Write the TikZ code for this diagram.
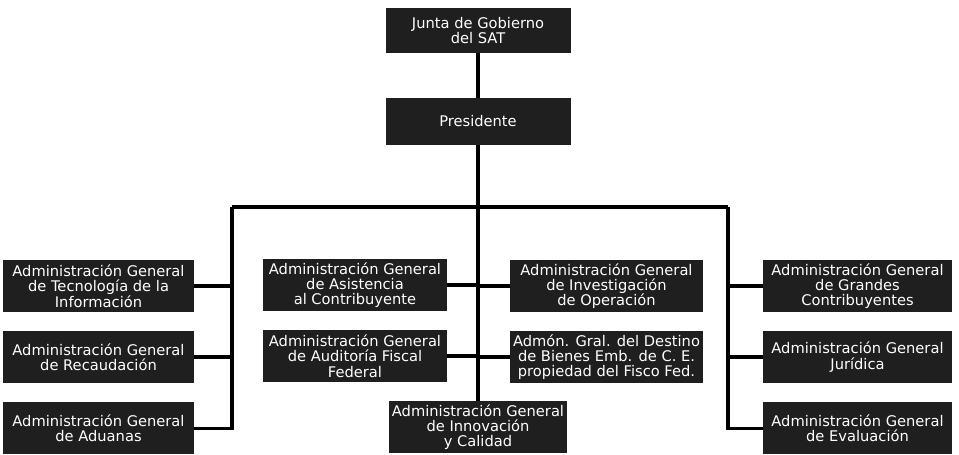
\documentclass[tikz,border=0pt]{standalone}
\usepackage{fontspec}
\setsansfont{DejaVu Sans}
\usepackage{xcolor}
\usetikzlibrary{positioning}

\begin{document}
\begin{tikzpicture}[
    x=0.75pt, y=-0.75pt,
    node distance=14pt,
    box/.style={fill=black!88, text=white, minimum height=39pt, inner sep=1pt,
                font=\sffamily\fontsize{11}{11.5}\selectfont, align=center},
    line/.style={line width=2.6pt}
  ]
    \useasboundingbox (0,0) rectangle (959,454);

    \node[box, minimum width=138.75pt, minimum height=33.75pt] (junta) at (478,30.5)
          {Junta de Gobierno\\del SAT};
    \node[box, minimum width=138.75pt, minimum height=35.25pt] (pres) at (478,121.5)
          {Presidente};

    % left column
    \node[box, minimum width=143pt] (tec) at (98.5,286)
          {Administración General\\de Tecnología de la\\Información};
    \node[box, minimum width=143pt, below=of tec] (rec)
          {Administración General\\de Recaudación};
    \node[box, minimum width=143pt, below=of rec] (adu)
          {Administración General\\de Aduanas};

    % centre, left side
    \node[box, minimum width=138pt] (asi) at (355,285)
          {Administración General\\de Asistencia\\al Contribuyente};
    \node[box, minimum width=138pt, below=of asi] (aud)
          {Administración General\\de Auditoría Fiscal\\Federal};

    % centre, right side
    \node[box, minimum width=144.75pt] (inv) at (606.5,286)
          {Administración General\\de Investigación\\de Operación};
    \node[box, minimum width=144.75pt, below=of inv] (des)
          {Admón. Gral. del Destino\\de Bienes Emb. de C. E.\\propiedad del Fisco Fed.};

    \node[box, minimum width=134pt] (inno) at (478,427)
          {Administración General\\de Innovación\\y Calidad};

    % right column
    \node[box, minimum width=141.75pt] (gra) at (857.5,286)
          {Administración General\\de Grandes\\Contribuyentes};
    \node[box, minimum width=141.75pt, below=of gra] (jur)
          {Administración General\\Jurídica};
    \node[box, minimum width=141.75pt, below=of jur] (eva)
          {Administración General\\de Evaluación};

    \coordinate (busL) at (232,207);
    \coordinate (busR) at (728,207);

    \draw[line] (junta.south) -- (pres.north);
    \draw[line] (pres.south) -- (inno.north);
    \draw[line] (busL) -- (busR);

    \draw[line] (busL) |- (adu.east);
    \draw[line] (tec.east) -- (tec.east -| busL);
    \draw[line] (rec.east) -- (rec.east -| busL);

    \draw[line] (asi.east) -- (asi.east -| pres.south);
    \draw[line] (aud.east) -- (aud.east -| pres.south);
    \draw[line] (inv.west) -- (inv.west -| pres.south);
    \draw[line] (des.west) -- (des.west -| pres.south);

    \draw[line] (busR) |- (eva.west);
    \draw[line] (gra.west) -- (gra.west -| busR);
    \draw[line] (jur.west) -- (jur.west -| busR);
  \end{tikzpicture}
\end{document}
